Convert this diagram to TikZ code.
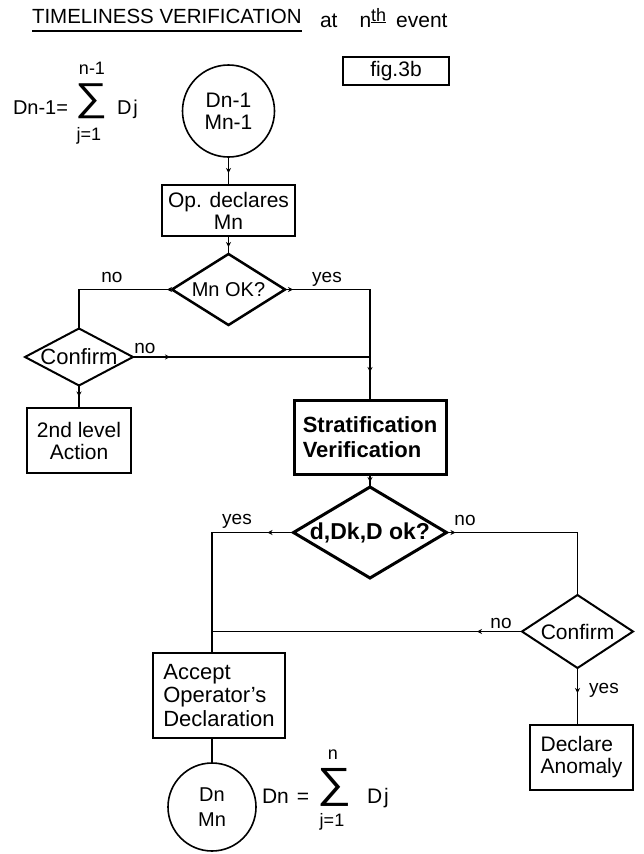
\documentclass[tikz,border=0pt]{standalone}
\usepackage{graphicx}
\usepackage{fontspec}
\setmainfont{Liberation Sans}
\newfontfamily\symfont{Liberation Sans}
\usetikzlibrary{shapes.geometric,arrows.meta,decorations.markings}
\begin{document}
\begin{tikzpicture}[x=1pt,y=-1pt,
  every node/.style={inner sep=0pt, outer sep=0pt},
  txt/.style={font=\fontsize{21}{22}\selectfont},
  lbl/.style={font=\fontsize{19}{19}\selectfont, anchor=base},
  boxnode/.style={draw, line width=1.8pt, txt, align=center},
  dia/.style={draw, diamond, line width=#1, txt, aspect=1},
  dia/.default=2pt,
  circ/.style={draw, circle, line width=1.6pt, txt, align=center},
  conn/.style={line width=1.8pt},
  midtip/.style={postaction={decorate, decoration={markings, mark=at position #1 with {\arrow{Stealth[length=5pt,width=5pt]}}}}},
]
\fill[white] (0,0) rectangle (644,854);
\useasboundingbox (0,0) rectangle (644,854);

% title
\node[anchor=base west, font=\fontsize{20.5}{20}\selectfont] (title) at (32,23) {TIMELINESS VERIFICATION};
\draw[line width=2pt] ([yshift=-8pt]title.base west) -- ([yshift=-8pt]title.base east);
\node[anchor=base west, font=\fontsize{21}{21}\selectfont] (atn) at (320,27) {at\hspace{22pt}n\raisebox{6pt}{\fontsize{18}{18}\selectfont\underline{th}}\hspace{10pt}event};

\node[boxnode, minimum width=106pt, minimum height=28pt] (fig) at (396,71) {fig.3b};

% formula top
\node[anchor=base west, font=\fontsize{20}{20}\selectfont] (f1a) at (13,114) {Dn-1=};
\node (f1s) at (91,101) {\resizebox*{32pt}{35pt}{\symfont ∑}};
\node[font=\fontsize{18}{18}\selectfont] (f1n) at (92,68) {n-1};
\node[font=\fontsize{18}{18}\selectfont] (f1j) at (89,136) {j=1};
\node[anchor=base west, font=\fontsize{20}{20}\selectfont] (f1d) at (117,114) {D\kern2pt j};

% nodes
\node[circ, minimum size=92pt] (c1) at (228.5,111) {Dn-1\\Mn-1};
\node[boxnode, minimum width=133pt, minimum height=51pt] (op) at (228.5,210.5) {Op. declares\\Mn};
\node[dia=2.5pt, minimum width=113pt, minimum height=71pt, font=\fontsize{20}{20}\selectfont] (mnok) at (228.5,289.5) {\makebox[0pt]{Mn OK?}};
\node[dia=2pt, minimum width=108pt, minimum height=57pt, font=\fontsize{22}{22}\selectfont] (conf1) at (79,357) {\makebox[0pt]{Confirm}};
\node[boxnode, minimum width=104pt, minimum height=65pt] (act) at (79,440.5) {2nd level\\Action};
\node[boxnode, line width=3pt, minimum width=152pt, minimum height=74pt, font=\bfseries\fontsize{22}{25}\selectfont, align=left] (strat) at (370,437) {Stratification\\Verification};
\node[dia=3pt, minimum width=153pt, minimum height=91pt, font=\bfseries\fontsize{23}{23}\selectfont] (dok) at (370,532.5) {\makebox[0pt]{d,Dk,D ok?}};
\node[dia=2pt, minimum width=111pt, minimum height=73pt, font=\fontsize{21}{21}\selectfont] (conf2) at (577.5,631.5) {\makebox[0pt]{Confirm}};
\node[boxnode, minimum width=132pt, minimum height=85pt, align=left, font=\fontsize{22}{23.5}\selectfont] (acc) at (219,695.5) {Accept\\Operator's\\Declaration};
\node[boxnode, minimum width=103pt, minimum height=65pt, align=left] (anom) at (581.5,757.5) {Declare\\Anomaly};
\node[circ, minimum size=88pt, font=\fontsize{20}{25}\selectfont] (c2) at (212,807) {Dn\\Mn};

% formula bottom
\node[anchor=base west, font=\fontsize{21}{21}\selectfont] (f2a) at (262,803) {Dn\hspace{8pt}=};
\node (f2s) at (334.5,787) {\resizebox*{34pt}{38pt}{\symfont ∑}};
\node[font=\fontsize{18}{18}\selectfont] (f2n) at (333,755) {n};
\node[font=\fontsize{18}{18}\selectfont] (f2j) at (332,822) {j=1};
\node[anchor=base west, font=\fontsize{21}{21}\selectfont] (f2d) at (367,803) {D\kern2pt j};

% columns
\coordinate (lc) at (212,0);
\coordinate (j1) at (strat.north |- conf1.east);

% connectors
\draw[conn, midtip=16pt] (c1) -- (op);
\draw[conn, midtip=11pt] (op) -- (mnok);
\draw[conn, midtip=5pt] (mnok.west) -| (conf1.north);
\draw[conn, midtip=8pt, midtip=-28pt] (mnok.east) -| (strat.north);
\draw[conn, midtip=37pt] (conf1.east) -- (j1);
\draw[conn, midtip=11pt] (conf1) -- (act);
\draw[conn, midtip=-5pt] (strat) -- (dok);
\draw[conn, midtip=26pt] (dok.west) -| (acc.north -| lc);
\draw[conn, midtip=9pt] (dok.east) -| (conf2.north);
\draw[conn, midtip=45pt] (conf2.west) -- (conf2.west -| lc);
\draw[conn, midtip=25pt] (conf2.south) -- (conf2.south |- anom.north);
\draw[conn] (acc.south -| lc) -- (c2.north);

% labels
\node[lbl] (l1) at (112,282) {no};
\node[lbl] (l2) at (327,282) {yes};
\node[lbl] (l3) at (145,353) {no};
\node[lbl] (l4) at (237,524) {yes};
\node[lbl] (l5) at (465,525) {no};
\node[lbl] (l6) at (501,628) {no};
\node[lbl] (l7) at (604,693) {yes};
\end{tikzpicture}
\end{document}
